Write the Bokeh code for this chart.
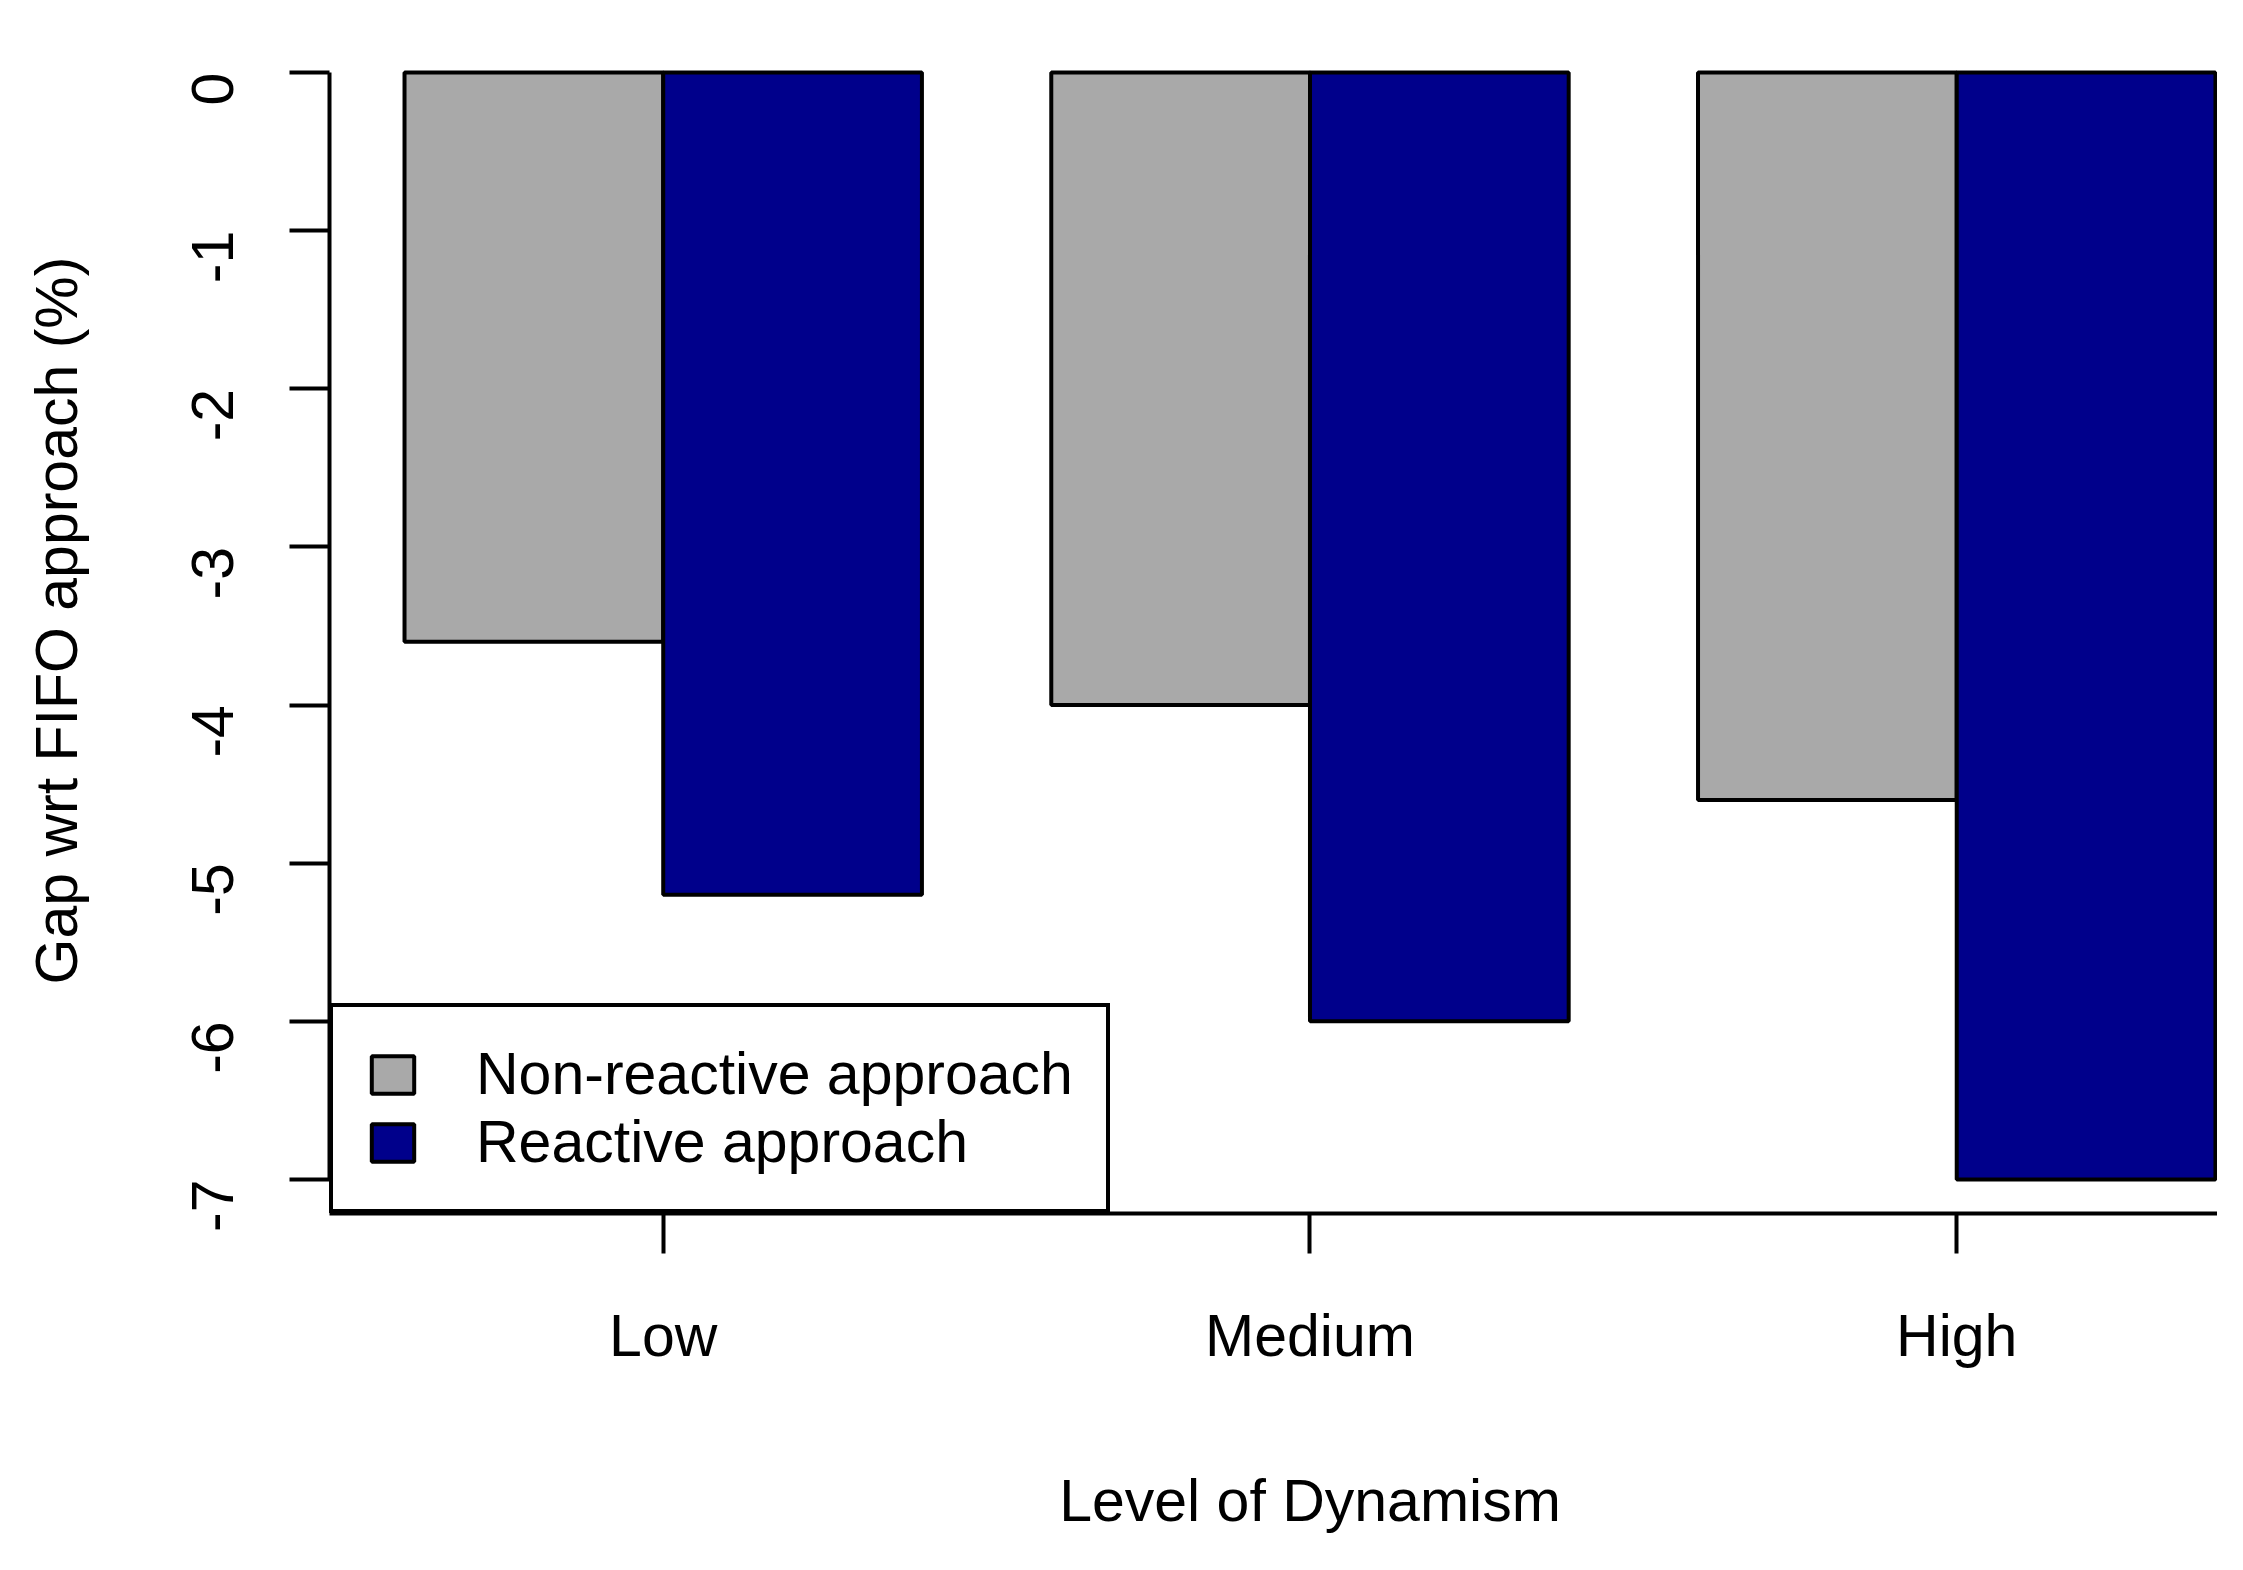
import math
from bokeh.plotting import figure
from bokeh.models import ColumnDataSource, Range1d, FixedTicker, Legend, LegendItem, LinearAxis
from bokeh.embed import file_html
from bokeh.resources import INLINE

# ---- data ----
levels = ["Low", "Medium", "High"]
series_names = ["Non-reactive approach", "Reactive approach"]
non_reactive = [-3.6, -4.0, -4.6]
reactive = [-5.2, -6.0, -7.0]
series_colors = ["#A9A9A9", "#00008B"]
y_ticks = [0, -1, -2, -3, -4, -5, -6, -7]
y_tick_labels = ["0", "-1", "-2", "-3", "-4", "-5", "-6", "-7"]
x_title = "Level of Dynamism"
y_title = "Gap wrt FIFO approach (%)"

# ---- layout of grouped bars (R barplot style: width 1, space 0.5 between groups) ----
bar_w = 1.0
group_gap = 0.5
group_left = [group_gap + i * (2 * bar_w + group_gap) for i in range(len(levels))]
group_center = [g + bar_w for g in group_left]

FONT = "Liberation Sans"
FS = "59px"
LW = 4

p = figure(width=2217, height=1554, output_backend="svg", toolbar_location=None,
           x_range=Range1d(0.210, 7.508), y_range=Range1d(-7.215, 0.285),
           min_border_left=329, min_border_right=0, min_border_top=27, min_border_bottom=341)
p.outline_line_color = None
p.xgrid.visible = False
p.ygrid.visible = False
p.background_fill_color = "white"
p.border_fill_color = "white"

renderers = []
for k, (vals, col) in enumerate(zip([non_reactive, reactive], series_colors)):
    src = ColumnDataSource(dict(x=[g + bar_w * (k + 0.5) for g in group_left], v=vals))
    r = p.vbar(x="x", width=bar_w, top=0, bottom="v", source=src,
               fill_color=col, line_color="black", line_width=LW)
    renderers.append(r)

# axes
for ax in (p.xaxis[0], p.yaxis[0]):
    ax.axis_line_color = "black"
    ax.axis_line_width = LW
    ax.major_tick_line_color = "black"
    ax.major_tick_line_width = LW
    ax.major_tick_in = 0
    ax.major_tick_out = 40
    ax.minor_tick_line_color = None
    ax.major_label_text_font = FONT
    ax.major_label_text_font_size = FS
    ax.major_label_text_color = "black"
    ax.axis_label_text_font = FONT
    ax.axis_label_text_font_size = FS
    ax.axis_label_text_font_style = "normal"
    ax.axis_label_text_color = "black"

xa = p.xaxis[0]
xa.ticker = FixedTicker(ticks=group_center)
xa.major_label_overrides = {(int(c) if float(c).is_integer() else c): lab for c, lab in zip(group_center, levels)}
xa.major_label_standoff = 49

ya = p.yaxis[0]
ya.ticker = FixedTicker(ticks=y_ticks)
ya.bounds = (min(y_ticks), max(y_ticks))
ya.major_label_overrides = {t: s for t, s in zip(y_ticks, y_tick_labels)}
ya.major_label_orientation = math.pi / 2
ya.major_label_standoff = 77
ya.axis_label = y_title
ya.axis_label_standoff = 79

# x axis title: R centres it on the full plot region (midpoint of the bar extent),
# which runs past the cropped right edge -> a second, line-less axis carries it.
bars_mid = (group_left[0] + group_left[-1] + 2 * bar_w) / 2
mid_key = int(bars_mid) if float(bars_mid).is_integer() else bars_mid
title_axis = LinearAxis(ticker=FixedTicker(ticks=[bars_mid]),
                        major_label_overrides={mid_key: x_title},
                        axis_line_color=None, major_tick_line_color=None,
                        minor_tick_line_color=None, major_tick_out=0, major_tick_in=0,
                        major_label_standoff=96,
                        major_label_text_font=FONT, major_label_text_font_size=FS,
                        major_label_text_color="black")
p.add_layout(title_axis, "below")

legend = Legend(items=[LegendItem(label=n, renderers=[r]) for n, r in zip(series_names, renderers)],
                location=(0, 0), margin=0, padding=33, spacing=0,
                glyph_width=53, glyph_height=47, label_standoff=57,
                label_text_font=FONT, label_text_font_size=FS, label_text_color="black",
                border_line_color="black", border_line_width=LW, border_line_alpha=1.0,
                background_fill_color="white", background_fill_alpha=1.0)
p.add_layout(legend)

open("out.html", "w").write(file_html(p, INLINE))
